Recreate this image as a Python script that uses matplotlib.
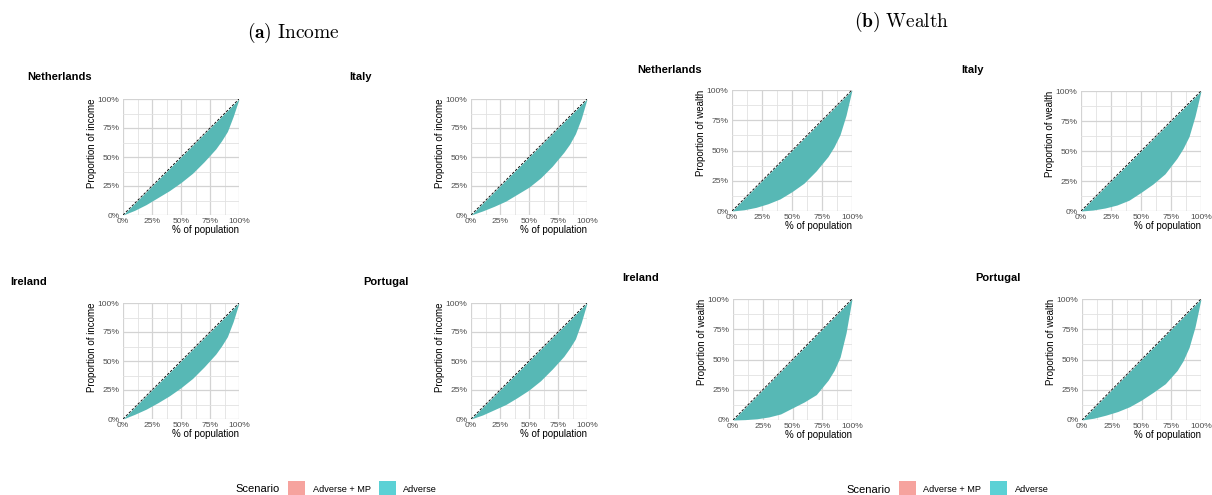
import matplotlib
matplotlib.use("Agg")
import matplotlib.pyplot as plt
from matplotlib.patches import Rectangle
import numpy as np

plt.rcParams['font.family'] = ['Liberation Sans', 'DejaVu Sans']
plt.rcParams['mathtext.fontset'] = 'cm'

# ---------------- data ----------------
pop_share = [0, 0.1, 0.2, 0.3, 0.4, 0.5, 0.6, 0.7, 0.8, 0.85, 0.9, 0.95, 1.0]

income_netherlands = [0, 0.04, 0.09, 0.15, 0.21, 0.28, 0.36, 0.46, 0.57, 0.64, 0.72, 0.85, 1.0]
income_italy       = [0, 0.035, 0.075, 0.12, 0.18, 0.24, 0.32, 0.42, 0.54, 0.61, 0.70, 0.83, 1.0]
income_ireland     = [0, 0.04, 0.085, 0.14, 0.20, 0.27, 0.35, 0.45, 0.56, 0.63, 0.71, 0.84, 1.0]
income_portugal    = [0, 0.035, 0.08, 0.125, 0.185, 0.25, 0.33, 0.43, 0.54, 0.61, 0.69, 0.83, 1.0]

wealth_netherlands = [0, 0.01, 0.03, 0.06, 0.10, 0.16, 0.23, 0.33, 0.45, 0.53, 0.63, 0.79, 1.0]
wealth_italy       = [0, 0.008, 0.025, 0.05, 0.09, 0.155, 0.225, 0.31, 0.44, 0.52, 0.62, 0.79, 1.0]
wealth_ireland     = [0, 0.003, 0.01, 0.025, 0.05, 0.10, 0.15, 0.21, 0.33, 0.41, 0.52, 0.72, 1.0]
wealth_portugal    = [0, 0.015, 0.04, 0.07, 0.11, 0.165, 0.23, 0.30, 0.41, 0.49, 0.60, 0.77, 1.0]

countries = ["Netherlands", "Italy", "Ireland", "Portugal"]
tick_vals = [0, 0.25, 0.5, 0.75, 1.0]
tick_labels = ["0%", "25%", "50%", "75%", "100%"]
scenarios = ["Adverse + MP", "Adverse"]

FILL = '#57B8B5'
LEG_COLORS = ['#F6A39E', '#5BD1D5']

W, H = 1212, 495
fig = plt.figure(figsize=(W / 100, H / 100), dpi=100)

def px_axes(l, r, t, b):
    return fig.add_axes([l / W, 1 - b / H, (r - l) / W, (b - t) / H])

def draw_panel(ax, y, ylabel, tick_fs=6.1, lab_fs=7.0):
    ax.fill_between(pop_share, y, pop_share, color=FILL, lw=0, zorder=2)
    ax.plot([0, 1], [0, 1], color='black', lw=0.6, ls=(0, (3, 2)), zorder=3)
    ax.set_xlim(0, 1)
    ax.set_ylim(0, 1)
    ax.set_xticks(tick_vals)
    ax.set_xticklabels(tick_labels)
    ax.set_yticks(tick_vals)
    ax.set_yticklabels(tick_labels)
    ax.set_xticks([0.125, 0.375, 0.625, 0.875], minor=True)
    ax.set_yticks([0.125, 0.375, 0.625, 0.875], minor=True)
    ax.grid(True, which='major', color='#D3D3D3', lw=0.9, zorder=0)
    ax.grid(True, which='minor', color='#E2E2E2', lw=0.6, zorder=0)
    ax.tick_params(which='both', length=0, labelsize=tick_fs, labelcolor='#4D4D4D')
    ax.tick_params(axis='x', pad=2.0)
    ax.tick_params(axis='y', pad=2.5)
    for s in ax.spines.values():
        s.set_visible(False)
    ax.set_axisbelow(True)
    ax.set_xlabel("% of population", loc='right', fontsize=lab_fs, labelpad=0.3)
    ax.set_ylabel(ylabel, loc='top', fontsize=lab_fs, labelpad=0.8)

# ---------------- income panels ----------------
income_data = [income_netherlands, income_italy, income_ireland, income_portugal]
income_boxes = [(123, 239, 99, 215), (471, 587, 99, 215),
                (123, 239, 303, 419), (471, 587, 303, 419)]
income_titles = [(27, 77), (349, 77), (10, 282), (363, 282)]
for name, y, box, tpos in zip(countries, income_data, income_boxes, income_titles):
    ax = px_axes(*box)
    draw_panel(ax, y, "Proportion of income")
    fig.text(tpos[0] / W, 1 - tpos[1] / H, name, fontsize=8, fontweight='bold',
             ha='left', va='center')

# ---------------- wealth panels ----------------
wealth_data = [wealth_netherlands, wealth_italy, wealth_ireland, wealth_portugal]
wealth_boxes = [(732, 852, 90, 211), (1081, 1201, 91, 211),
                (733, 852, 299, 420), (1082, 1201, 299, 420)]
wealth_titles = [(637, 70), (961, 70), (622, 278), (975, 278)]
for name, y, box, tpos in zip(countries, wealth_data, wealth_boxes, wealth_titles):
    ax = px_axes(*box)
    draw_panel(ax, y, "Proportion of wealth")
    fig.text(tpos[0] / W, 1 - tpos[1] / H, name, fontsize=8, fontweight='bold',
             ha='left', va='center')

# ---------------- main titles ----------------
fig.text(293 / W, 1 - 33 / H, r"$\mathbf{(a)}\ \mathrm{Income}$", fontsize=14,
         ha='center', va='center')
fig.text(902 / W, 1 - 22 / H, r"$\mathbf{(b)}\ \mathrm{Wealth}$", fontsize=14,
         ha='center', va='center')

# ---------------- legends ----------------
def legend_row(x_title, boxes_x, y_c):
    fig.text(x_title / W, 1 - y_c / H, "Scenario", fontsize=8, ha='left', va='center')
    for (bx, tx), lab, col in zip(boxes_x, scenarios, LEG_COLORS):
        fig.patches.append(Rectangle((bx / W, 1 - 497 / H), 17 / W, 16 / H,
                                     transform=fig.transFigure, facecolor=col,
                                     edgecolor='none', clip_on=False))
        fig.text(tx / W, 1 - y_c / H, lab, fontsize=6.6, ha='left', va='center')

legend_row(235, [(288, 313), (379, 403)], 489)
legend_row(846, [(899, 923), (990, 1015)], 490)

fig.savefig("out.png", dpi=100, facecolor='white')
